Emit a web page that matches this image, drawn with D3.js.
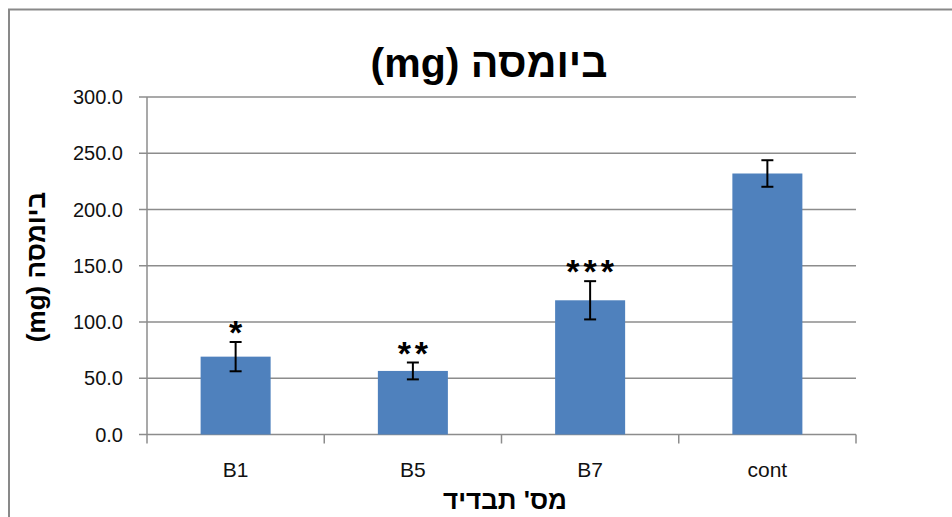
<!DOCTYPE html>
<html>
<head>
<meta charset="utf-8">
<script src="https://cdn.jsdelivr.net/npm/d3@7"></script>
<style>
  body { margin: 0; background: #fff; }
  svg { display: block; font-family: "Liberation Sans", "DejaVu Sans", sans-serif; }
</style>
</head>
<body>
<div id="chart"></div>
<script>
// data
const categories = ["B1", "B5", "B7", "cont"];
const values = [69.2, 56.5, 119.3, 232.0];
const errors = [13.0, 7.5, 17.0, 11.8];
const stars = ["*", "**", "***", ""];
const yTicks = [0, 50, 100, 150, 200, 250, 300];

const width = 952, height = 517;
const margin = { top: 97, right: 96, bottom: 82.5, left: 147 };

const svg = d3.select("#chart").append("svg")
    .attr("width", width)
    .attr("height", height);

// outer frame (only left and top visible in the reference)
svg.append("path")
    .attr("d", `M9,${height} L9,9.5 L${width},9.5`)
    .attr("fill", "none")
    .attr("stroke", "#898989")
    .attr("stroke-width", 2);

const x = d3.scaleBand()
    .domain(categories)
    .range([margin.left, width - margin.right])
    .paddingInner(0.605)
    .paddingOuter(0.3025);

const y = d3.scaleLinear()
    .domain([0, 300])
    .range([height - margin.bottom, margin.top]);

// gridlines + y ticks
svg.append("g")
    .selectAll("line")
    .data(yTicks)
    .enter().append("line")
    .attr("x1", margin.left - 8)
    .attr("x2", width - margin.right)
    .attr("y1", d => y(d))
    .attr("y2", d => y(d))
    .attr("stroke", "#8c8c8c")
    .attr("stroke-width", 1.5);

svg.append("g")
    .selectAll("text")
    .data(yTicks)
    .enter().append("text")
    .attr("x", 123)
    .attr("y", d => y(d) + 7)
    .attr("text-anchor", "end")
    .attr("font-size", 20)
    .attr("fill", "#111")
    .text(d => d.toFixed(1));

// y axis line
svg.append("line")
    .attr("x1", margin.left).attr("x2", margin.left)
    .attr("y1", y(300)).attr("y2", y(0))
    .attr("stroke", "#8c8c8c").attr("stroke-width", 1.5);

// x axis ticks (category boundaries)
const bounds = d3.range(categories.length + 1).map(i => margin.left + i * (width - margin.left - margin.right) / categories.length);
svg.append("g")
    .selectAll("line")
    .data(bounds)
    .enter().append("line")
    .attr("x1", d => d).attr("x2", d => d)
    .attr("y1", y(0)).attr("y2", y(0) + 9)
    .attr("stroke", "#8c8c8c").attr("stroke-width", 1.5);

// bars
svg.append("g")
    .selectAll("rect")
    .data(categories)
    .enter().append("rect")
    .attr("x", d => x(d))
    .attr("width", x.bandwidth())
    .attr("y", (d, i) => y(values[i]))
    .attr("height", (d, i) => y(0) - y(values[i]))
    .attr("fill", "#4f81bd");

// error bars
const eb = svg.append("g").attr("stroke", "#000").attr("stroke-width", 2);
categories.forEach((c, i) => {
    const cx = x(c) + x.bandwidth() / 2;
    const top = y(values[i] + errors[i]);
    const bot = y(values[i] - errors[i]);
    eb.append("line").attr("x1", cx).attr("x2", cx).attr("y1", top).attr("y2", bot);
    eb.append("line").attr("x1", cx - 6).attr("x2", cx + 6).attr("y1", top).attr("y2", top);
    eb.append("line").attr("x1", cx - 6).attr("x2", cx + 6).attr("y1", bot).attr("y2", bot);
});

// significance stars
svg.append("g")
    .selectAll("text")
    .data(categories)
    .enter().append("text")
    .attr("x", d => x(d) + x.bandwidth() / 2 + 2)
    .attr("y", (d, i) => y(values[i] + errors[i]) + 2)
    .attr("text-anchor", "middle")
    .attr("font-size", 34)
    .attr("font-weight", "bold")
    .attr("letter-spacing", 4)
    .text((d, i) => stars[i]);

// x tick labels
svg.append("g")
    .selectAll("text")
    .data(categories)
    .enter().append("text")
    .attr("x", d => x(d) + x.bandwidth() / 2)
    .attr("y", 477)
    .attr("text-anchor", "middle")
    .attr("font-size", 21)
    .attr("fill", "#111")
    .text(d => d);

// titles
svg.append("text")
    .attr("x", 489)
    .attr("y", 77)
    .attr("text-anchor", "middle")
    .attr("direction", "rtl")
    .attr("font-size", 41)
    .attr("font-weight", "bold")
    .text("ביומסה (mg)");

svg.append("text")
    .attr("x", 505)
    .attr("y", 509)
    .attr("text-anchor", "middle")
    .attr("direction", "rtl")
    .attr("font-size", 26)
    .attr("font-weight", "bold")
    .text("מס' תבדיד");

svg.append("text")
    .attr("transform", "translate(45,267) rotate(-90)")
    .attr("text-anchor", "middle")
    .attr("direction", "rtl")
    .attr("font-size", 26)
    .attr("font-weight", "bold")
    .text("ביומסה (mg)");
</script>
</body>
</html>
